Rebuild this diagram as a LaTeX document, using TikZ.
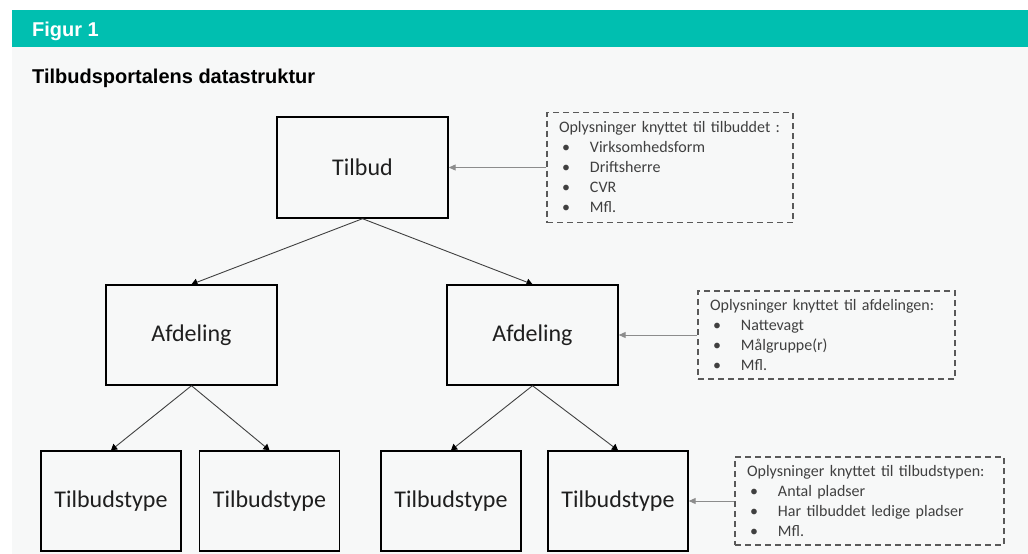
\documentclass[tikz,border=0pt]{standalone}
\usepackage{fontspec}
\setmainfont{Carlito}
\newfontfamily\headfont{Liberation Sans}
\usetikzlibrary{arrows.meta}
\definecolor{figteal}{HTML}{00BFB0}
\definecolor{figgray}{HTML}{F7F8F8}
\newcommand{\punkt}{\hspace*{3pt}\makebox[28pt][l]{\textbullet}}

\begin{document}
\begin{tikzpicture}[x=1pt,y=-1pt]
	\tikzstyle{level box}=[draw=black, line width=1.4pt, text=black!88, font=\fontsize{24}{28}\selectfont, inner sep=0pt]
	\tikzstyle{info box}=[draw=black!65, dash pattern=on 6pt off 4pt, line width=1.3pt, align=left, inner xsep=12pt, inner ysep=0pt, text=black!75, font=\fontsize{16}{20}\selectfont]
	\tikzstyle{tree arrow}=[draw=black!75, line width=0.9pt, -{Triangle[length=6pt,width=7pt,black]}]
	\tikzstyle{info arrow}=[draw=black!45, line width=1pt, -{Triangle[length=7pt,width=6pt]}]
	\tikzstyle{head text}=[anchor=base west, inner sep=0pt, font=\headfont\bfseries\fontsize{20}{22}\selectfont]
	\fill [white] (0,0) rectangle (1028,554);
	\fill [figgray] (12,47) rectangle (1028,554);
	\fill [figteal] (12,10) rectangle (1028,47);
	\node [head text, text=white] (figur) at (32,36) {Figur 1};
	\node [head text, text=black] (titel) at (32,83) {Tilbudsportalens datastruktur};
	\node [level box, minimum width=171pt, minimum height=101pt] (tilbud) at (362.5,167.5) {Tilbud};
	\node [level box, minimum width=171pt, minimum height=100pt] (afdA) at (191.5,335) {Afdeling};
	\node [level box, minimum width=171pt, minimum height=100pt] (afdB) at (532.5,335) {Afdeling};
	\node [level box, minimum width=140pt, minimum height=100pt] (typeA) at (111,501) {Tilbudstype};
	\node [level box, minimum width=140pt, minimum height=100pt] (typeB) at (269.5,501) {Tilbudstype};
	\node [level box, minimum width=140pt, minimum height=100pt] (typeC) at (451,501) {Tilbudstype};
	\node [level box, minimum width=140pt, minimum height=100pt] (typeD) at (618,501) {Tilbudstype};
	\node [info box, text width=222pt, minimum height=110pt] (infoTilbud) at (670,167.5) {Oplysninger knyttet til tilbuddet :\\ \punkt Virksomhedsform\\ \punkt Driftsherre\\ \punkt CVR\\ \punkt Mfl.};
	\node [info box, text width=233pt, minimum height=88pt] (infoAfd) at (826.5,335) {Oplysninger knyttet til afdelingen:\\ \punkt Nattevagt\\ \punkt Målgruppe(r)\\ \punkt Mfl.};
	\node [info box, text width=245pt, minimum height=88pt] (infoType) at (869.5,501) {Oplysninger knyttet til tilbudstypen:\\ \punkt Antal pladser\\ \punkt Har tilbuddet ledige pladser\\ \punkt Mfl.};
	\draw [tree arrow] (tilbud.south) -- (afdA.north);
	\draw [tree arrow] (tilbud.south) -- (afdB.north);
	\draw [tree arrow] (afdA.south) -- (typeA.north);
	\draw [tree arrow] (afdA.south) -- (typeB.north);
	\draw [tree arrow] (afdB.south) -- (typeC.north);
	\draw [tree arrow] (afdB.south) -- (typeD.north);
	\draw [info arrow] (infoTilbud.west) -- (tilbud.east);
	\draw [info arrow] (infoAfd.west) -- (afdB.east);
	\draw [info arrow] (infoType.west) -- (typeD.east);
\end{tikzpicture}
\end{document}
